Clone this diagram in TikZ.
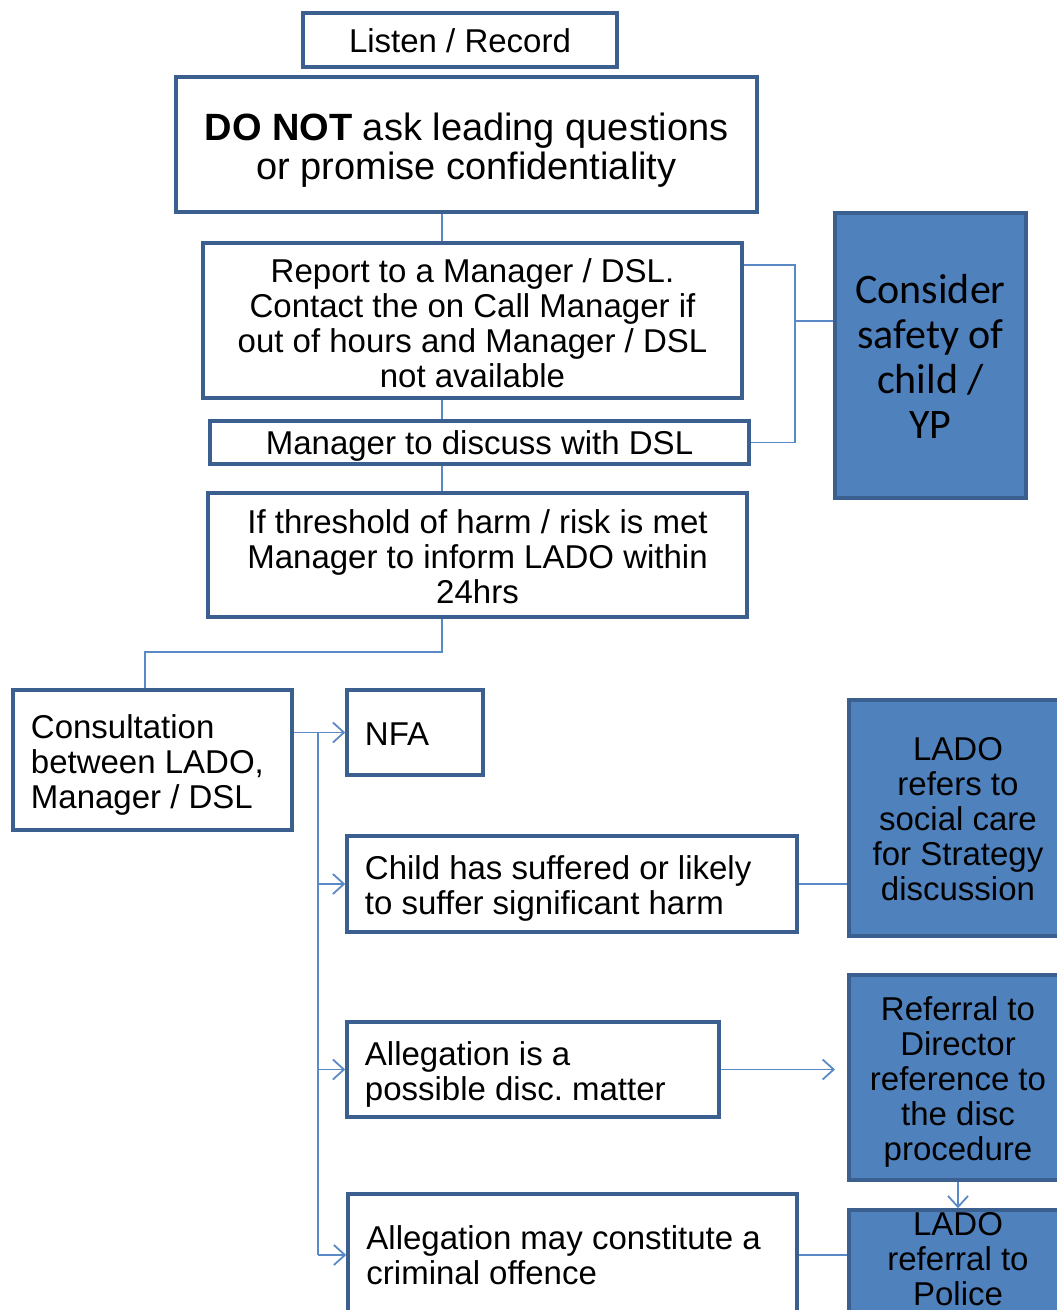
\documentclass[tikz,border=0pt]{standalone}
\usepackage{fontspec}
\setmainfont{Liberation Sans}
\newfontfamily\calfont{Carlito}
\usetikzlibrary{arrows.meta}
\frenchspacing
\definecolor{boxline}{HTML}{3B5F8F}
\definecolor{boxfill}{HTML}{4F81BD}
\definecolor{conn}{HTML}{5A8AC6}
\tikzset{
  box/.style={draw=boxline, line width=3.5pt, fill=white, inner sep=0pt},
  bluebox/.style={box, fill=boxfill},
  txt/.style={inner sep=0pt, align=center, font=\fontsize{33}{35}\selectfont},
  ltxt/.style={txt, align=left, anchor=west},
  conline/.style={draw=conn, line width=1.8pt},
  arr/.style={conline, -{Straight Barb[length=11pt,width=20pt,line width=1.8pt]}},
}
\begin{document}
\begin{tikzpicture}[x=1pt,y=-1pt]
\useasboundingbox (0,0) rectangle (1057,1310);
\clip (0,0) rectangle (1057,1310);
\coordinate (spine) at (442,0);
\coordinate (rbus) at (795,0);
\coordinate (lbus) at (318,0);
% boxes
\node[box, minimum width=314pt, minimum height=54pt] (listen) at (460,40) {};
\node[box, minimum width=581pt, minimum height=135pt] (donot) at (466.5,144.5) {};
\node[box, minimum width=539pt, minimum height=155pt] (report) at (472.5,320.5) {};
\node[box, minimum width=539pt, minimum height=43pt] (mgr) at (479.5,442.5) {};
\node[box, minimum width=539pt, minimum height=124pt] (thresh) at (477.5,555) {};
\node[bluebox, minimum width=191pt, minimum height=285pt] (consider) at (930.5,355.5) {};
\node[box, minimum width=279pt, minimum height=140pt] (cons) at (152.5,760) {};
\node[box, minimum width=136pt, minimum height=85pt] (nfa) at (415,732.5) {};
\node[box, minimum width=450pt, minimum height=96pt] (child) at (572,884) {};
\node[box, minimum width=372pt, minimum height=95pt] (disc) at (533,1069.5) {};
\node[box, minimum width=449pt, minimum height=122pt] (crim) at (572.5,1255) {};
\node[bluebox, minimum width=218pt, minimum height=236pt] (ladoS) at (958,818) {};
\node[bluebox, minimum width=218pt, minimum height=205pt] (refdir) at (958,1077.5) {};
\node[bluebox, minimum width=218pt, minimum height=106pt] (police) at (958,1263) {};
% texts
\node[txt] (listenT) at ([yshift=-1pt]listen.center) {Listen / Record};
\node[txt, font=\fontsize{38}{39.5}\selectfont] (donotT) at ([yshift=-5.5pt]donot.center) {\textbf{DO NOT} ask leading questions\\or promise confidentiality};
\node[txt] (reportT) at ([yshift=-2.5pt]report.center) {Report to a Manager / DSL.\\Contact the on Call Manager if\\out of hours and Manager / DSL\\not available};
\node[txt] (mgrT) at ([yshift=-3pt]mgr.center) {Manager to discuss with DSL};
\node[txt] (threshT) at ([yshift=-2pt]thresh.center) {If threshold of harm / risk is met\\Manager to inform LADO within\\24hrs};
\node[txt, font=\calfont\fontsize{42}{45}\selectfont] (considerT) at ([yshift=-0.5pt]consider.center) {Consider\\safety of\\child /\\YP};
\node[ltxt] (consT) at ([xshift=19.5pt,yshift=-5pt]cons.west) {Consultation\\between LADO,\\Manager / DSL};
\node[ltxt] (nfaT) at ([xshift=19.5pt,yshift=-2pt]nfa.west) {NFA};
\node[ltxt] (childT) at ([xshift=19.5pt,yshift=-4pt]child.west) {Child has suffered or likely\\to suffer significant harm};
\node[ltxt] (discT) at ([xshift=19.5pt,yshift=-5pt]disc.west) {Allegation is a\\possible disc. matter};
\node[ltxt] (crimT) at ([xshift=20pt]crim.west) {Allegation may constitute a\\criminal offence};
\node[txt] (ladoST) at ([yshift=-1pt]ladoS.center) {LADO\\refers to\\social care\\for Strategy\\discussion};
\node[txt] (refdirT) at ([yshift=-4pt]refdir.center) {Referral to\\Director\\reference to\\the disc\\procedure};
\node[txt] (policeT) at ([yshift=4pt]police.center) {LADO\\referral to\\Police};
% connectors top
\draw[conline] (donot.south -| spine) -- (report.north -| spine);
\draw[conline] (report.south -| spine) -- (mgr.north -| spine);
\draw[conline] (mgr.south -| spine) -- (thresh.north -| spine);
\coordinate (elbowR) at (442,652);
\coordinate (elbowL) at (145,652);
\draw[conline] (thresh.south -| spine) -- (elbowR) -- (elbowL) -- (cons.north -| elbowL);
\coordinate (rtop) at (795,265);
\coordinate (rmid) at (795,321);
\draw[conline] (report.east |- rtop) -- (rtop) -- (rbus |- mgr.east) -- (mgr.east);
\draw[conline] (rmid) -- (consider.west |- rmid);
% connectors bottom
\draw[arr] (cons.east |- nfa.west) -- (nfa.west);
\draw[conline] (lbus |- nfa.west) -- (lbus |- crim.west);
\draw[arr] (lbus |- child.west) -- (child.west);
\draw[arr] (lbus |- disc.west) -- (disc.west);
\draw[arr] (lbus |- crim.west) -- (crim.west);
\draw[conline] (child.east) -- (ladoS.west |- child.east);
\coordinate (discend) at (835,1069.5);
\draw[arr] (disc.east) -- (discend);
\draw[arr] (refdir.south) -- (police.north);
\draw[conline] (crim.east) -- (police.west |- crim.east);
\end{tikzpicture}
\end{document}
